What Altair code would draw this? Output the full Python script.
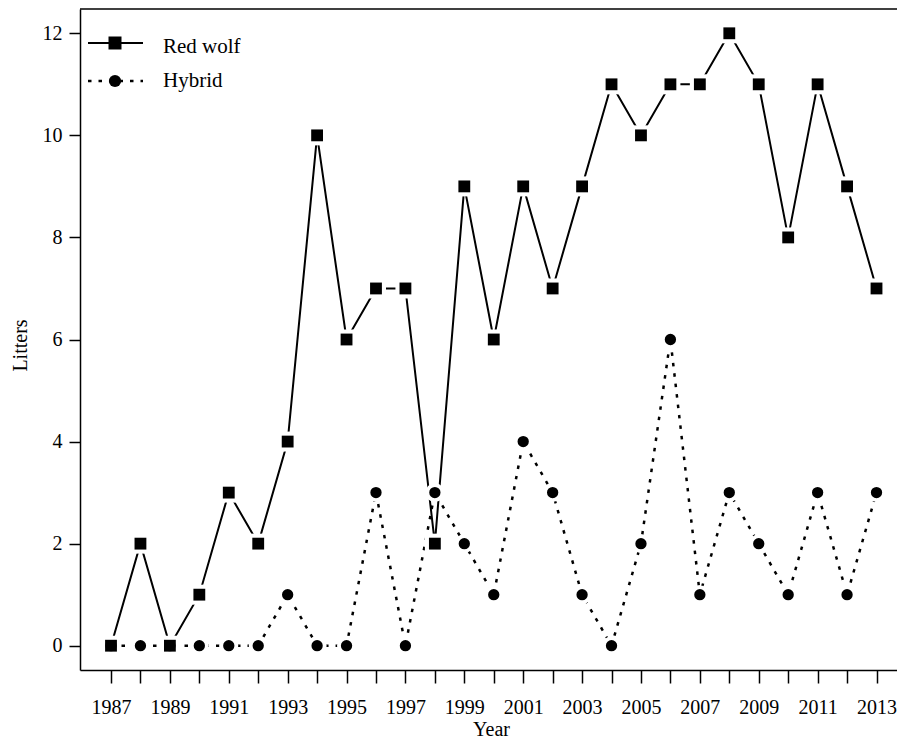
import altair as alt
import pandas as pd

years = list(range(1987, 2014))
red_wolf = [0, 2, 0, 1, 3, 2, 4, 10, 6, 7, 7, 2, 9, 6, 9, 7, 9, 11, 10, 11, 11, 12, 11, 8, 11, 9, 7]
hybrid = [0, 0, 0, 0, 0, 0, 1, 0, 0, 3, 0, 3, 2, 1, 4, 3, 1, 0, 2, 6, 1, 3, 2, 1, 3, 1, 3]
series_names = ["Red wolf", "Hybrid"]
x_ticks = years
y_ticks = [0, 2, 4, 6, 8, 10, 12]

rows = []
for name, vals in zip(series_names, [red_wolf, hybrid]):
    for yr, v in zip(years, vals):
        rows.append({"Year": yr, "Litters": v, "Series": name})
df = pd.DataFrame(rows)
leg = pd.DataFrame({"Series": series_names})

W, H = 817, 661
FONT = "Liberation Serif"

xs = alt.Scale(domain=[1985.947, 2013.696], nice=False, zero=False)
ys = alt.Scale(domain=[-0.476, 12.476], nice=False, zero=False)

xax = alt.Axis(values=x_ticks, format="d",
               labelExpr="datum.value % 2 == 1 ? datum.label : ''",
               tickSize=13, labelPadding=30, labelBaseline="alphabetic",
               labelOverlap=False, labelFlush=False,
               titleX=411, titleY=65, titleBaseline="alphabetic", titleAlign="center")
yax = alt.Axis(values=y_ticks, format="d", tickSize=11, labelPadding=7,
               titleX=-54, titleY=336, titleAngle=270, titleBaseline="alphabetic",
               titleAlign="center")

base = alt.Chart(df).encode(
    x=alt.X("Year:Q", scale=xs, axis=xax, title="Year"),
    y=alt.Y("Litters:Q", scale=ys, axis=yax, title="Litters"),
)

red = base.transform_filter(alt.datum.Series == "Red wolf")
hyb = base.transform_filter(alt.datum.Series == "Hybrid")

red_line = red.mark_line(color="black", strokeWidth=2)
hyb_line = hyb.mark_line(color="black", strokeWidth=2.5, strokeDash=[3.5, 7])
red_halo = red.mark_point(shape="square", filled=True, color="white", size=400, opacity=1)
hyb_halo = hyb.mark_point(shape="circle", filled=True, color="white", size=361, opacity=1)
red_pts = red.mark_point(shape="square", filled=True, color="black", size=140, opacity=1)
hyb_pts = hyb.mark_point(shape="circle", filled=True, color="black", size=128, opacity=1)

lchart = alt.Chart(leg)
l_red = lchart.transform_filter(alt.datum.Series == "Red wolf")
l_hyb = lchart.transform_filter(alt.datum.Series == "Hybrid")

leg_layers = [
    l_red.mark_rule(color="black", strokeWidth=2).encode(
        x=alt.value(8), x2=alt.value(63), y=alt.value(34)),
    l_red.mark_point(shape="square", filled=True, color="black", size=169, opacity=1).encode(
        x=alt.value(35), y=alt.value(34)),
    l_red.mark_text(font=FONT, fontSize=21, align="left", baseline="alphabetic", color="black").encode(
        x=alt.value(83), y=alt.value(44), text="Series:N"),
    l_hyb.mark_rule(color="black", strokeWidth=2.5, strokeDash=[3.5, 7]).encode(
        x=alt.value(8), x2=alt.value(63), y=alt.value(72)),
    l_hyb.mark_point(shape="circle", filled=True, color="black", size=150, opacity=1).encode(
        x=alt.value(35), y=alt.value(72)),
    l_hyb.mark_text(font=FONT, fontSize=21, align="left", baseline="alphabetic", color="black").encode(
        x=alt.value(83), y=alt.value(78), text="Series:N"),
]

top_border = l_red.mark_rule(color="black", strokeWidth=1.5).encode(
    x=alt.value(0), x2=alt.value(W), y=alt.value(0))

chart = alt.layer(
    red_line, hyb_line, red_halo, hyb_halo, red_pts, hyb_pts, top_border, *leg_layers
).properties(
    width=W, height=H,
    padding={"left": 72, "top": 1, "right": 0, "bottom": 70},
    autosize=alt.AutoSizeParams(type="none"),
).configure_view(stroke=None).configure_axis(
    grid=False, domainColor="black", domainWidth=1.5, tickColor="black", tickWidth=1.5,
    labelFont=FONT, labelFontSize=20, labelColor="black",
    titleFont=FONT, titleFontSize=20, titleColor="black", titleFontWeight="normal",
)

chart.save("out.html", embed_options={"renderer": "svg", "actions": False})
